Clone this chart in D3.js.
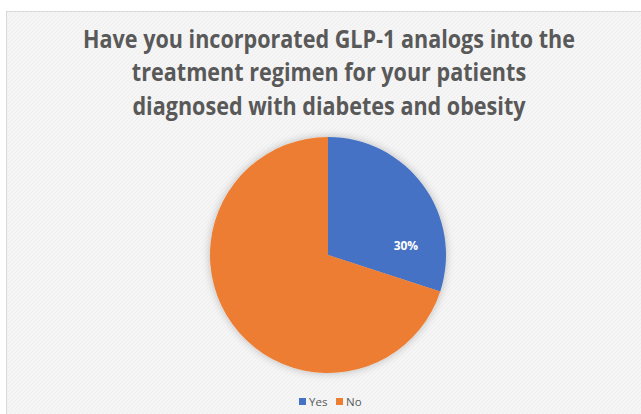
<!DOCTYPE html>
<html>
<head>
<meta charset="utf-8">
<script src="https://cdn.jsdelivr.net/npm/d3@7"></script>
<style>
  html, body { margin: 0; padding: 0; background: #ffffff; }
  svg { display: block; }
</style>
</head>
<body>
<svg id="chart" width="641" height="414"></svg>
<script>
const titleLines = [
  "Have you incorporated GLP-1 analogs into the",
  "treatment regimen for your patients",
  "diagnosed with diabetes and obesity"
];
const categories = ["Yes", "No"];
const values = [30, 70];
const sliceLabels = ["30%", ""];
const colors = ["#4472C4", "#ED7D31"];

const svg = d3.select("#chart");
const W = 641, H = 414;

const defs = svg.append("defs");
const pat = defs.append("pattern").attr("id", "tex").attr("width", 4).attr("height", 4)
  .attr("patternUnits", "userSpaceOnUse");
pat.append("rect").attr("width", 4).attr("height", 4).attr("fill", "#f5f5f5");
pat.append("path").attr("d", "M0,4 L4,0").attr("stroke", "#efefef").attr("stroke-width", 1);
const shadow = defs.append("filter").attr("id", "shadow")
  .attr("x", "-20%").attr("y", "-20%").attr("width", "140%").attr("height", "140%");
shadow.append("feGaussianBlur").attr("in", "SourceAlpha").attr("stdDeviation", 4).attr("result", "b");
shadow.append("feComponentTransfer").attr("in", "b").attr("result", "c")
  .append("feFuncA").attr("type", "linear").attr("slope", 0.25);
const merge = shadow.append("feMerge");
merge.append("feMergeNode").attr("in", "c");
merge.append("feMergeNode").attr("in", "SourceGraphic");

// frame
svg.append("rect").attr("x", 6.5).attr("y", 11.5).attr("width", 640).attr("height", 410)
  .attr("fill", "url(#tex)").attr("stroke", "#d9d9d9").attr("stroke-width", 1);

// title
const title = svg.append("g").attr("font-family", "'Open Sans', sans-serif")
  .attr("font-weight", "bold").attr("font-size", 24.5).attr("fill", "#595959")
  .attr("text-anchor", "middle");
const tNodes = title.selectAll("text").data(titleLines).join("text")
  .attr("x", 329).attr("y", (d, i) => 47.5 + i * 33.5).text(d => d);
const w0 = tNodes.nodes()[0].getComputedTextLength();
const k = 492 / w0;
tNodes.each(function() {
  const w = this.getComputedTextLength();
  d3.select(this).attr("textLength", w * k).attr("lengthAdjust", "spacingAndGlyphs");
});

// pie
const cx = 328, cy = 255, r = 118;
const pie = d3.pie().sort(null).value(d => d)(values);
const arc = d3.arc().innerRadius(0).outerRadius(r);
const lr = r * 0.665;
const g = svg.append("g").attr("transform", `translate(${cx},${cy})`);
g.append("g").attr("filter", "url(#shadow)").selectAll("path").data(pie).join("path")
  .attr("d", arc).attr("fill", (d, i) => colors[i]);
g.selectAll("text.lbl").data(pie).join("text").attr("class", "lbl")
  .attr("transform", d => {
    const a = d.startAngle + (d.endAngle - d.startAngle) * 0.77;
    return `translate(${lr * Math.sin(a)},${-lr * Math.cos(a)})`;
  })
  .attr("text-anchor", "middle").attr("dy", "0.35em")
  .attr("font-family", "'Open Sans', sans-serif").attr("font-weight", "bold")
  .attr("font-size", 12).attr("fill", "#ffffff")
  .text((d, i) => sliceLabels[i]);

// legend
const legend = svg.append("g").attr("font-family", "'Open Sans', sans-serif")
  .attr("font-size", 11.5).attr("fill", "#595959");
const lx = [299, 336];
categories.forEach((c, i) => {
  legend.append("rect").attr("x", lx[i]).attr("y", 398).attr("width", 7).attr("height", 7)
    .attr("fill", colors[i]);
  legend.append("text").attr("x", lx[i] + 10).attr("y", 406).text(c);
});
</script>
</body>
</html>
